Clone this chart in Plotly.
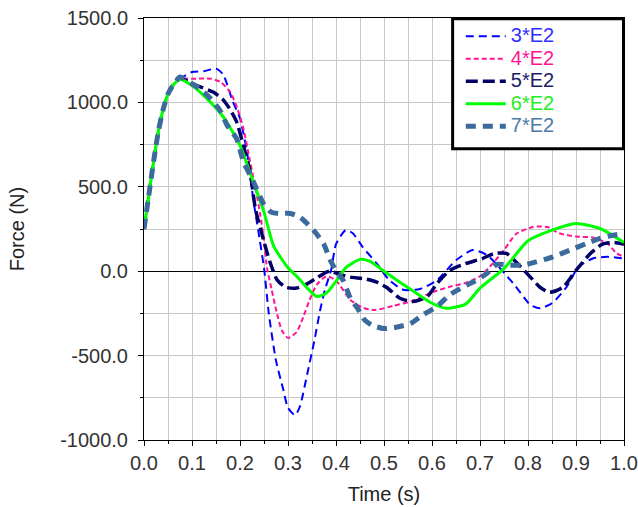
import plotly.graph_objects as go

# ---------------- data ----------------
rise_t = [0.0, 0.01, 0.02, 0.03, 0.04, 0.05, 0.06]
rise_f = [250, 450, 650, 830, 960, 1050, 1100]

t_3e2 = rise_t + [0.075, 0.1, 0.125, 0.15, 0.165, 0.185, 0.2, 0.215, 0.228, 0.238, 0.25,
                  0.26, 0.275, 0.29, 0.3, 0.315, 0.325, 0.34, 0.355, 0.367, 0.377, 0.39,
                  0.40, 0.42, 0.435, 0.455, 0.485, 0.51, 0.54, 0.575, 0.61, 0.65, 0.685,
                  0.715, 0.77, 0.805, 0.825, 0.85, 0.88, 0.905, 0.935, 0.965, 1.0]
f_3e2 = rise_f + [1140, 1180, 1185, 1200, 1165, 1005, 905, 700, 420, 240, 20,
                  -250, -530, -700, -810, -853, -800, -610, -410, -230, -110, 10,
                  160, 243, 225, 145, 45, -50, -110, -105, -55, 65, 125,
                  95, -75, -200, -220, -190, -95, 25, 75, 85, 75]

t_4e2 = rise_t + [0.075, 0.1, 0.14, 0.16, 0.18, 0.195, 0.207, 0.221, 0.235, 0.242, 0.25,
                  0.256, 0.266, 0.277, 0.287, 0.3, 0.318, 0.332, 0.345, 0.36, 0.38, 0.40,
                  0.43, 0.455, 0.48, 0.52, 0.56, 0.6, 0.64, 0.67, 0.7, 0.72, 0.75, 0.775,
                  0.81, 0.84, 0.865, 0.9, 0.935, 0.965, 0.985, 1.0]
f_4e2 = rise_f + [1140, 1140, 1140, 1120, 1060, 960, 845, 650, 450, 340, 180,
                  25, -110, -250, -350, -395, -360, -270, -170, -80, -30, -55,
                  -170, -215, -230, -205, -175, -125, -90, -70, -30, 25, 125, 220,
                  262, 262, 225, 205, 200, 165, 105, 85]

t_5e2 = rise_t + [0.075, 0.11, 0.145, 0.165, 0.18, 0.193, 0.207, 0.221, 0.232, 0.249, 0.263,
                  0.277, 0.295, 0.318, 0.34, 0.36, 0.385, 0.41, 0.43, 0.46, 0.485, 0.505,
                  0.533, 0.56, 0.59, 0.61, 0.637, 0.67, 0.705, 0.73, 0.755, 0.775, 0.805,
                  0.825, 0.845, 0.873, 0.9, 0.93, 0.955, 0.98, 1.0]
f_5e2 = rise_f + [1140, 1100, 1060, 1015, 955, 885, 745, 590, 370, 185, 50,
                  -50, -95, -100, -75, -40, 0, -20, -35, -45, -65, -95,
                  -160, -180, -150, -75, 5, 45, 75, 105, 105, 55, -35,
                  -95, -125, -95, 5, 105, 160, 170, 160]

t_6e2 = rise_t + [0.075, 0.1, 0.13, 0.165, 0.2, 0.22, 0.25, 0.27, 0.3, 0.32, 0.34, 0.36,
                  0.38, 0.4, 0.42, 0.45, 0.47, 0.5, 0.53, 0.57, 0.6, 0.63, 0.67, 0.7,
                  0.75, 0.8, 0.85, 0.9, 0.95, 1.0]
f_6e2 = rise_f + [1135, 1100, 1025, 915, 746, 590, 350, 150, 20, -35, -100, -150,
                  -130, -60, 20, 70, 60, 0, -60, -135, -190, -220, -195, -100,
                  15, 180, 243, 283, 253, 170]

t_7e2 = rise_t + [0.075, 0.1, 0.117, 0.138, 0.16, 0.173, 0.193, 0.207, 0.228, 0.249, 0.265,
                  0.28, 0.305, 0.325, 0.353, 0.374, 0.388, 0.40, 0.415, 0.43, 0.445, 0.46,
                  0.475, 0.5, 0.525, 0.555, 0.58, 0.61, 0.637, 0.665, 0.693, 0.714, 0.735,
                  0.762, 0.79, 0.817, 0.852, 0.887, 0.922, 0.95, 0.977, 1.0]
f_7e2 = rise_f + [1150, 1110, 1080, 1025, 945, 865, 785, 650, 530, 400, 350,
                  342, 342, 320, 243, 164, 65, 5, -55, -160, -220, -290,
                  -320, -340, -332, -310, -260, -210, -140, -93, -53, -14, 40,
                  36, 36, 55, 85, 124, 164, 194, 213, 223]

series_names = ["3*E2", "4*E2", "5*E2", "6*E2", "7*E2"]
series_t = [t_3e2, t_4e2, t_5e2, t_6e2, t_7e2]
series_f = [f_3e2, f_4e2, f_5e2, f_6e2, f_7e2]

x_tickvals = [0.0, 0.1, 0.2, 0.3, 0.4, 0.5, 0.6, 0.7, 0.8, 0.9, 1.0]
x_ticktext = ["0.0", "0.1", "0.2", "0.3", "0.4", "0.5", "0.6", "0.7", "0.8", "0.9", "1.0"]
y_tickvals = [-1000, -500, 0, 500, 1000, 1500]
y_ticktext = ["-1000.0", "-500.0", "0.0", "500.0", "1000.0", "1500.0"]

# ---------------- styles ----------------
line_colors = ["#0000ff", "#ff1493", "#000066", "#00ff00", "#3a6b9c"]
text_colors = ["#2f2fff", "#ff1493", "#1c1c66", "#22ee22", "#4d7aa6"]
line_widths = [2, 2, 3.5, 3, 5]
line_dashes = ["8px,5px", "5px,3px", "12px,5px", "solid", "10px,7px"]

FONT = "Liberation Sans, Arial, sans-serif"

fig = go.Figure()
for name, t, f, c, tc, w, d in zip(series_names, series_t, series_f, line_colors,
                                   text_colors, line_widths, line_dashes):
    fig.add_trace(go.Scatter(
        x=t, y=f, mode="lines",
        name=f'<span style="color:{tc};font-size:20px">{name}</span>',
        line=dict(color=c, width=w, dash=d, shape="spline", smoothing=0.6),
    ))

fig.add_shape(type="rect", xref="paper", yref="paper",
              x0=0.643, x1=0.999, y0=0.69, y1=0.998,
              line=dict(color="black", width=3), fillcolor="white", layer="above")

axis_common = dict(
    showline=True, linecolor="black", linewidth=1, mirror=True,
    ticks="outside", ticklen=5, tickcolor="black",
    showgrid=True, gridcolor="#c8c8c8", gridwidth=1,
    tickfont=dict(family=FONT, size=20, color="#333333"),
    automargin=False,
)

fig.update_xaxes(
    range=[0, 1], tickmode="array", tickvals=x_tickvals, ticktext=x_ticktext,
    zeroline=False,
    minor=dict(dtick=0.05, ticks="outside", ticklen=3, tickcolor="black",
               showgrid=True, gridcolor="#c8c8c8", gridwidth=1),
    title=dict(text="Time (s)", font=dict(family=FONT, size=20, color="#222222"), standoff=13),
    **axis_common,
)
fig.update_yaxes(
    range=[-1000, 1500], tickmode="array", tickvals=y_tickvals, ticktext=y_ticktext,
    zeroline=True, zerolinecolor="black", zerolinewidth=1,
    minor=dict(dtick=250, tick0=0, ticks="outside", ticklen=3, tickcolor="black",
               showgrid=True, gridcolor="#c8c8c8", gridwidth=1),
    ticklabelstandoff=6,
    title=dict(text="Force (N)", font=dict(family=FONT, size=20, color="#222222"), standoff=30),
    **axis_common,
)

fig.update_layout(
    width=638, height=507,
    margin=dict(l=144, r=14, t=18, b=67, autoexpand=False),
    paper_bgcolor="white", plot_bgcolor="white",
    font=dict(family=FONT),
    showlegend=True,
    legend=dict(x=0.66, y=0.995, xanchor="left", yanchor="top",
                bgcolor="rgba(0,0,0,0)", borderwidth=0,
                font=dict(family=FONT, size=15), itemwidth=40,
                tracegroupgap=0),
)

fig.write_html("out.html", config={"displayModeBar": False},
               post_script="document.body.style.margin='0px';document.body.style.overflow='hidden';")
